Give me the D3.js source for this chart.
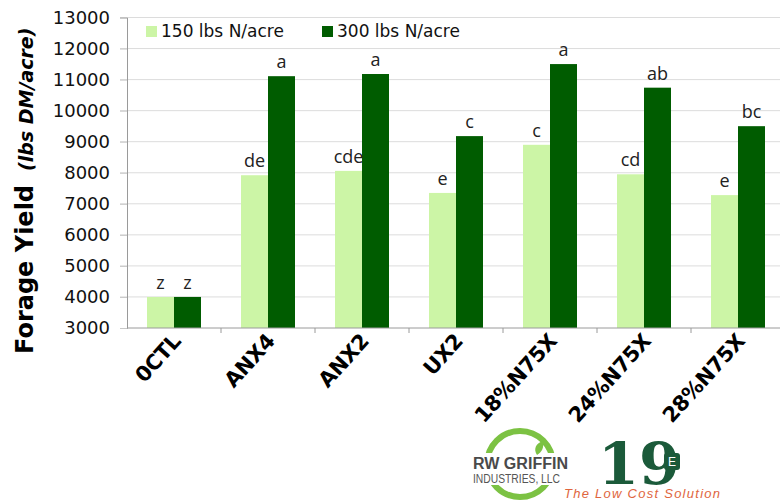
<!DOCTYPE html>
<html>
<head>
<meta charset="utf-8">
<script src="https://cdn.jsdelivr.net/npm/d3@7"></script>
<style>
  body { margin: 0; background: #fff; }
  svg { display: block; }
</style>
</head>
<body>
<svg width="780" height="500"></svg>
<script>
var categories = ['0CTL', 'ANX4', 'ANX2', 'UX2', '18%N75X', '24%N75X', '28%N75X'];
var series = ['150 lbs N/acre', '300 lbs N/acre'];
var yield150 = [4000, 7920, 8060, 7350, 8900, 7950, 7280];
var yield300 = [4000, 11110, 11180, 9180, 11500, 10740, 9500];
var letters150 = ['z', 'de', 'cde', 'e', 'c', 'cd', 'e'];
var letters300 = ['z', 'a', 'a', 'c', 'a', 'ab', 'bc'];
var yTicks = [3000, 4000, 5000, 6000, 7000, 8000, 9000, 10000, 11000, 12000, 13000];

var colors = ['#ccf5a6', '#005c00'];

var svg = d3.select('svg');

var x0 = d3.scaleBand()
  .domain(categories)
  .range([127, 785]);

var x1 = d3.scaleBand()
  .domain(series)
  .range([20, x0.bandwidth() - 20]);

var y = d3.scaleLinear()
  .domain([3000, 13000])
  .range([328, 17.5]);

// gridlines
svg.append('g')
  .selectAll('line')
  .data(yTicks.slice(1))
  .enter()
  .append('line')
  .attr('x1', 120)
  .attr('x2', 785)
  .attr('y1', d => y(d))
  .attr('y2', d => y(d))
  .attr('stroke', '#dcdcdc')
  .attr('stroke-width', 1);

// y axis
var yAxis = svg.append('g')
  .attr('transform', 'translate(127,0)')
  .call(d3.axisLeft(y).tickValues(yTicks).tickSize(7).tickFormat(d3.format('d')));
yAxis.select('.domain').attr('stroke', '#9a9a9a');
yAxis.selectAll('.tick line').attr('stroke', '#c8c8c8');
yAxis.selectAll('text')
  .attr('x', -17)
  .style('font-family', 'DejaVu Sans')
  .style('font-size', '18px')
  .attr('fill', '#111');

// bars
var rows = categories.map(function(c, i) {
  return {
    cat: c,
    vals: [
      { s: series[0], v: yield150[i], l: letters150[i], k: 0 },
      { s: series[1], v: yield300[i], l: letters300[i], k: 1 }
    ]
  };
});

var groups = svg.append('g')
  .selectAll('g')
  .data(rows)
  .enter()
  .append('g')
  .attr('transform', d => 'translate(' + x0(d.cat) + ',0)');

groups.selectAll('rect')
  .data(d => d.vals)
  .enter()
  .append('rect')
  .attr('x', d => x1(d.s))
  .attr('width', x1.bandwidth())
  .attr('y', d => y(d.v))
  .attr('height', d => y(3000) - y(d.v))
  .attr('fill', d => colors[d.k]);

groups.selectAll('text')
  .data(d => d.vals)
  .enter()
  .append('text')
  .attr('x', d => x1(d.s) + x1.bandwidth() / 2)
  .attr('y', d => y(d.v) - 8)
  .attr('text-anchor', 'middle')
  .style('font-family', 'Open Sans')
  .style('font-size', '18px')
  .attr('fill', '#222')
  .text(d => d.l);

// x axis
svg.append('line')
  .attr('x1', 127)
  .attr('x2', 785)
  .attr('y1', y(3000))
  .attr('y2', y(3000))
  .attr('stroke', '#9a9a9a');

svg.append('g')
  .selectAll('line')
  .data(categories)
  .enter()
  .append('line')
  .attr('x1', d => x0(d) + x0.step())
  .attr('x2', d => x0(d) + x0.step())
  .attr('y1', y(3000))
  .attr('y2', y(3000) + 5)
  .attr('stroke', '#9a9a9a');

svg.append('g')
  .selectAll('text')
  .data(categories)
  .enter()
  .append('text')
  .attr('text-anchor', 'end')
  .attr('transform', d => 'translate(' + (x0(d) + x0.bandwidth() / 2 + 8) + ',' + 342 + ') rotate(-48)')
  .style('font-family', 'DejaVu Sans')
  .style('font-weight', 'bold')
  .style('font-size', '21px')
  .style('letter-spacing', '-0.4px')
  .attr('fill', '#000')
  .text(d => d);

// y title
svg.append('text')
  .attr('transform', 'translate(33,354) rotate(-90)')
  .attr('text-anchor', 'start')
  .style('font-family', 'DejaVu Sans')
  .style('font-weight', 'bold')
  .attr('fill', '#000')
  .call(function(t) {
    t.append('tspan').style('font-size', '24px').text('Forage Yield');
    t.append('tspan').style('font-size', '19px').style('font-style', 'italic').attr('dx', 14).text('(lbs DM/acre)');
  });

// legend
var legend = svg.append('g')
  .selectAll('g')
  .data(series)
  .enter()
  .append('g')
  .attr('transform', (d, i) => 'translate(' + (146 + i * 176) + ',26)');

legend.append('rect')
  .attr('width', 11)
  .attr('height', 11)
  .attr('fill', (d, i) => colors[i]);

legend.append('text')
  .attr('x', 15)
  .attr('y', 11)
  .style('font-family', 'DejaVu Sans')
  .style('font-size', '17px')
  .attr('fill', '#111')
  .text(d => d);

// logo
var logo = svg.append('g');
logo.append('circle')
  .attr('cx', 520)
  .attr('cy', 464)
  .attr('r', 33)
  .attr('fill', 'none')
  .attr('stroke', '#7cc243')
  .attr('stroke-width', 6);
logo.append('rect')
  .attr('x', 470)
  .attr('y', 453)
  .attr('width', 100)
  .attr('height', 32)
  .attr('fill', '#fff');
logo.append('path')
  .attr('d', 'M537,455 C533,449 536,443 543,441 C544,448 542,452 537,455 Z')
  .attr('fill', '#7cc243');
logo.append('text')
  .attr('x', 473)
  .attr('y', 469)
  .attr('textLength', 95)
  .attr('lengthAdjust', 'spacingAndGlyphs')
  .style('font-family', 'Liberation Sans Narrow, Liberation Sans')
  .style('font-weight', 'bold')
  .style('font-size', '16px')
  .attr('fill', '#4a4a4a')
  .text('RW GRIFFIN');
logo.append('text')
  .attr('x', 473)
  .attr('y', 483)
  .attr('textLength', 87)
  .attr('lengthAdjust', 'spacingAndGlyphs')
  .style('font-family', 'Liberation Sans Narrow, Liberation Sans')
  .style('font-size', '12px')
  .attr('fill', '#555')
  .text('INDUSTRIES, LLC');
logo.append('text')
  .attr('x', 598)
  .attr('y', 484)
  .attr('textLength', 82)
  .attr('lengthAdjust', 'spacingAndGlyphs')
  .style('font-family', 'DejaVu Serif')
  .style('font-weight', 'bold')
  .style('font-size', '58px')
  .attr('fill', '#1b5a3a')
  .text('19');
logo.append('rect')
  .attr('x', 664)
  .attr('y', 453)
  .attr('width', 16)
  .attr('height', 17)
  .attr('rx', 3)
  .attr('fill', '#1b5a3a');
logo.append('text')
  .attr('x', 672)
  .attr('y', 466)
  .attr('text-anchor', 'middle')
  .style('font-family', 'Liberation Sans')
  .style('font-size', '12px')
  .attr('fill', '#fff')
  .text('E');
logo.append('text')
  .attr('x', 564)
  .attr('y', 498)
  .attr('textLength', 156)
  .style('font-family', 'Liberation Sans')
  .style('font-style', 'italic')
  .style('font-size', '13px')
  .attr('fill', '#e0653d')
  .text('The Low Cost Solution');
</script>
</body>
</html>
